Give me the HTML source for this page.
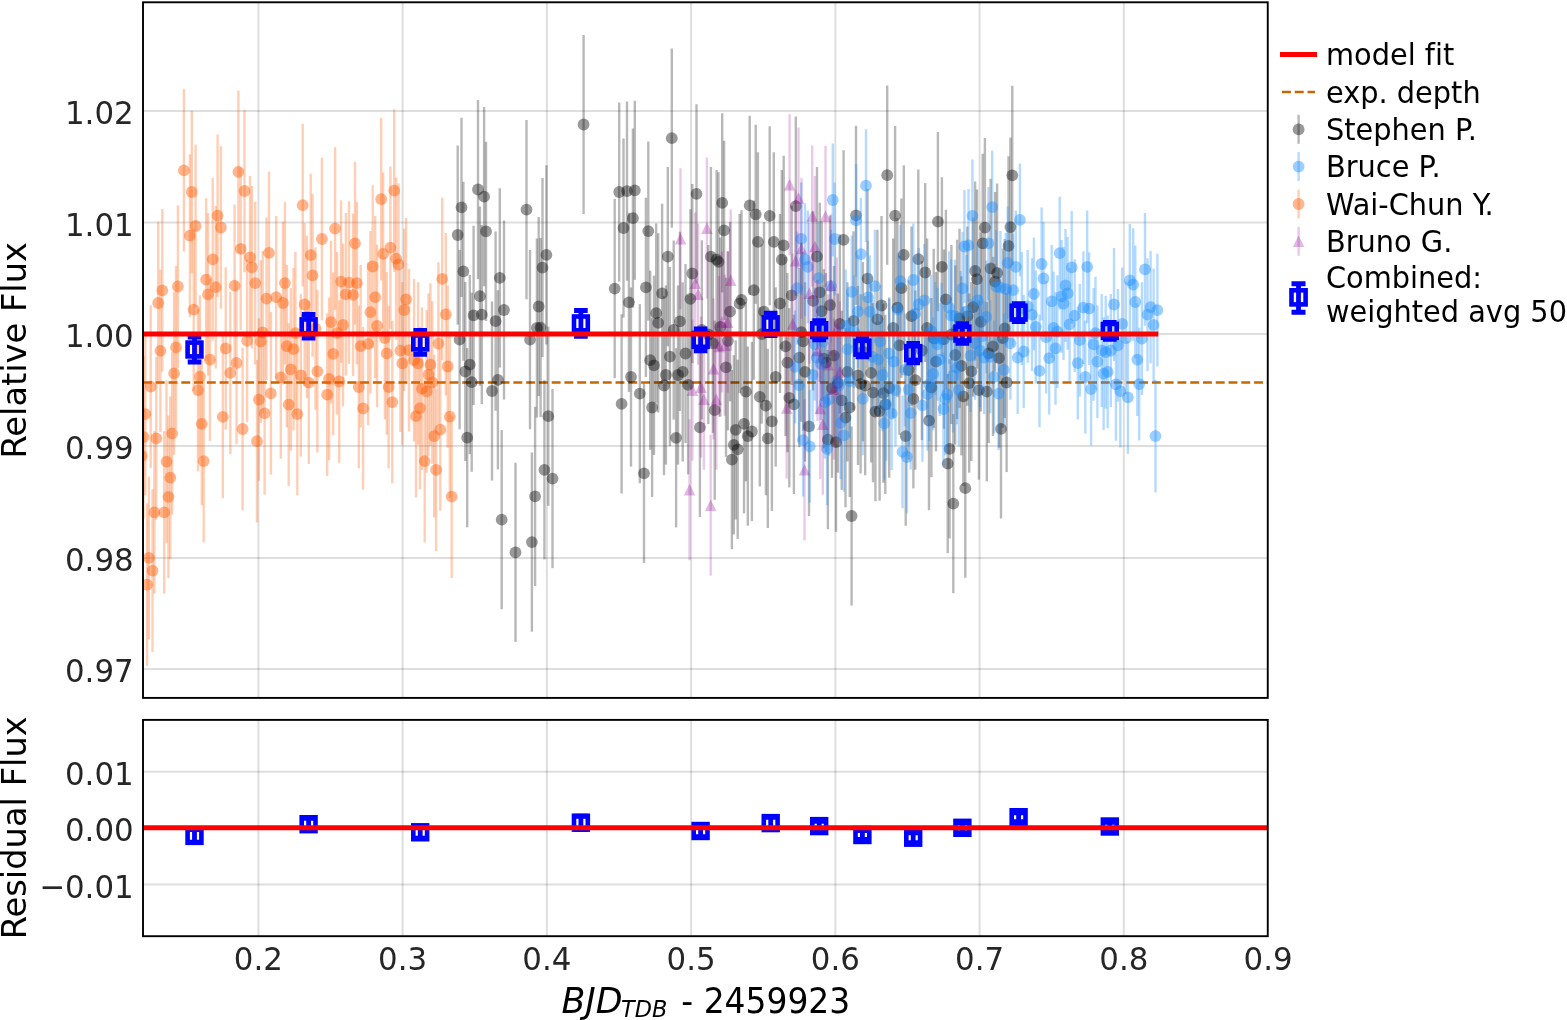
<!DOCTYPE html>
<html lang="en"><head><meta charset="utf-8"><title>Light curve</title>
<style>html,body{margin:0;padding:0;background:#fff;overflow:hidden}svg{display:block}text{font-family:"DejaVu Sans", "Liberation Sans", sans-serif;font-variant-ligatures:none;font-kerning:normal}.tk{font-size:31.5px;fill:#262626}.lb{font-size:33.8px;fill:#000}.yl{font-size:33.8px}.lg{font-size:28.8px;fill:#000}.g{stroke:#000;stroke-width:2;stroke-opacity:.13}.sp{fill:none;stroke:#000;stroke-width:1.9;stroke-linejoin:miter}</style></head><body>
<svg width="1567" height="1020" viewBox="0 0 1567 1020">
<rect x="0" y="0" width="1567" height="1020" fill="#ffffff"/>
<defs>
<clipPath id="ct"><rect x="143.00" y="2.30" width="1124.75" height="695.60"/></clipPath>
<clipPath id="cb"><rect x="143.00" y="719.90" width="1124.75" height="216.30"/></clipPath>
</defs>
<g class="g">
<line x1="258.40" y1="2.30" x2="258.40" y2="697.90"/>
<line x1="258.40" y1="719.90" x2="258.40" y2="936.20"/>
<line x1="402.64" y1="2.30" x2="402.64" y2="697.90"/>
<line x1="402.64" y1="719.90" x2="402.64" y2="936.20"/>
<line x1="546.88" y1="2.30" x2="546.88" y2="697.90"/>
<line x1="546.88" y1="719.90" x2="546.88" y2="936.20"/>
<line x1="691.12" y1="2.30" x2="691.12" y2="697.90"/>
<line x1="691.12" y1="719.90" x2="691.12" y2="936.20"/>
<line x1="835.36" y1="2.30" x2="835.36" y2="697.90"/>
<line x1="835.36" y1="719.90" x2="835.36" y2="936.20"/>
<line x1="979.60" y1="2.30" x2="979.60" y2="697.90"/>
<line x1="979.60" y1="719.90" x2="979.60" y2="936.20"/>
<line x1="1123.84" y1="2.30" x2="1123.84" y2="697.90"/>
<line x1="1123.84" y1="719.90" x2="1123.84" y2="936.20"/>
<line x1="143.00" y1="668.90" x2="1267.75" y2="668.90"/>
<line x1="143.00" y1="557.95" x2="1267.75" y2="557.95"/>
<line x1="143.00" y1="446.05" x2="1267.75" y2="446.05"/>
<line x1="143.00" y1="334.05" x2="1267.75" y2="334.05"/>
<line x1="143.00" y1="222.45" x2="1267.75" y2="222.45"/>
<line x1="143.00" y1="110.95" x2="1267.75" y2="110.95"/>
<line x1="143.00" y1="884.50" x2="1267.75" y2="884.50"/>
<line x1="143.00" y1="828.10" x2="1267.75" y2="828.10"/>
<line x1="143.00" y1="771.70" x2="1267.75" y2="771.70"/>
</g>
<g clip-path="url(#ct)">
<line x1="143.00" y1="382.45" x2="1267.75" y2="382.45" stroke="#c46804" stroke-width="2.65" stroke-dasharray="8.915 3.856"/>
<g stroke="#000000" stroke-width="2.4" stroke-opacity="0.28" fill="none">
<path d="M457.7 145.4V324.6"/>
<path d="M459.6 250.1V429.3"/>
<path d="M461.5 117.8V297.0"/>
<path d="M463.4 181.7V360.9"/>
<path d="M465.3 281.9V461.1"/>
<path d="M467.2 348.1V527.3"/>
<path d="M469.8 275.0V454.2"/>
<path d="M471.7 292.6V471.8"/>
<path d="M473.6 225.8V405.0"/>
<path d="M478.0 99.9V279.1"/>
<path d="M479.9 206.6V385.8"/>
<path d="M481.8 225.0V404.2"/>
<path d="M484.1 107.1V286.3"/>
<path d="M486.0 141.8V321.0"/>
<path d="M492.0 301.4V480.6"/>
<path d="M495.6 231.6V410.8"/>
<path d="M497.9 290.2V469.4"/>
<path d="M499.8 188.3V367.5"/>
<path d="M501.7 430.1V609.3"/>
<path d="M504.0 220.4V399.6"/>
<path d="M515.5 462.7V641.9"/>
<path d="M526.5 120.1V299.3"/>
<path d="M530.0 250.1V429.3"/>
<path d="M531.9 452.5V631.7"/>
<path d="M535.1 406.8V586.0"/>
<path d="M536.9 238.4V417.6"/>
<path d="M538.7 216.9V396.1"/>
<path d="M540.6 238.0V417.2"/>
<path d="M542.5 178.0V357.2"/>
<path d="M544.4 380.2V559.4"/>
<path d="M546.4 165.3V344.5"/>
<path d="M548.3 326.6V505.8"/>
<path d="M552.5 389.0V568.2"/>
<path d="M583.6 34.9V214.1"/>
<path d="M614.7 199.0V378.2"/>
<path d="M619.2 102.4V281.6"/>
<path d="M621.6 314.3V493.5"/>
<path d="M623.5 138.4V317.6"/>
<path d="M627.0 101.5V280.7"/>
<path d="M628.9 212.7V391.9"/>
<path d="M631.0 287.4V466.6"/>
<path d="M632.9 128.6V307.8"/>
<path d="M634.8 100.7V279.9"/>
<path d="M639.8 304.1V483.3"/>
<path d="M644.0 383.7V562.9"/>
<path d="M645.9 197.8V377.0"/>
<path d="M648.3 141.5V320.7"/>
<path d="M650.2 270.6V449.8"/>
<path d="M652.1 317.9V497.1"/>
<path d="M654.0 275.7V454.9"/>
<path d="M656.2 223.6V402.8"/>
<path d="M658.2 233.3V412.5"/>
<path d="M662.1 203.7V382.9"/>
<path d="M664.0 295.9V475.1"/>
<path d="M665.9 285.4V464.6"/>
<path d="M667.8 167.1V346.3"/>
<path d="M669.9 267.0V446.2"/>
<path d="M671.8 48.6V227.8"/>
<path d="M673.7 240.4V419.6"/>
<path d="M676.1 348.2V527.4"/>
<path d="M678.0 285.4V464.6"/>
<path d="M679.9 231.8V411.0"/>
<path d="M682.7 282.3V461.5"/>
<path d="M685.5 263.9V443.1"/>
<path d="M688.1 295.2V474.4"/>
<path d="M690.4 209.3V388.5"/>
<path d="M692.3 183.9V363.1"/>
<path d="M696.5 104.3V283.5"/>
<path d="M699.9 337.8V517.0"/>
<path d="M701.8 240.3V419.5"/>
<path d="M708.3 244.9V424.1"/>
<path d="M710.9 167.1V346.3"/>
<path d="M712.8 253.7V432.9"/>
<path d="M714.7 320.6V499.8"/>
<path d="M716.6 170.1V349.3"/>
<path d="M718.5 172.2V351.4"/>
<path d="M720.3 237.4V416.6"/>
<path d="M722.2 113.2V292.4"/>
<path d="M724.1 140.8V320.0"/>
<path d="M726.0 277.7V456.9"/>
<path d="M727.9 251.2V430.4"/>
<path d="M730.1 222.1V401.3"/>
<path d="M731.9 370.0V549.2"/>
<path d="M733.8 355.2V534.4"/>
<path d="M735.7 340.3V519.5"/>
<path d="M737.7 359.7V538.9"/>
<path d="M739.6 213.9V393.1"/>
<path d="M741.5 210.3V389.5"/>
<path d="M744.0 334.2V513.4"/>
<path d="M745.9 302.1V481.3"/>
<path d="M747.8 346.5V525.7"/>
<path d="M749.7 115.8V295.0"/>
<path d="M751.9 341.9V521.1"/>
<path d="M753.8 200.6V379.8"/>
<path d="M755.7 124.7V303.9"/>
<path d="M757.9 152.3V331.5"/>
<path d="M759.8 307.2V486.4"/>
<path d="M761.7 244.5V423.7"/>
<path d="M764.0 222.1V401.3"/>
<path d="M765.9 316.1V495.3"/>
<path d="M767.8 348.8V528.0"/>
<path d="M769.7 126.2V305.4"/>
<path d="M771.9 331.7V510.9"/>
<path d="M773.8 152.3V331.5"/>
<path d="M775.7 287.4V466.6"/>
<path d="M780.0 213.9V393.1"/>
<path d="M781.8 170.1V349.3"/>
<path d="M783.7 155.8V335.0"/>
<path d="M785.5 256.8V436.0"/>
<path d="M787.4 273.1V452.3"/>
<path d="M789.3 308.2V487.4"/>
<path d="M791.7 205.7V384.9"/>
<path d="M793.9 314.8V494.0"/>
<path d="M795.8 116.5V295.7"/>
<path d="M799.3 268.0V447.2"/>
<path d="M801.2 242.5V421.7"/>
<path d="M803.1 251.7V430.9"/>
<path d="M805.0 282.3V461.5"/>
<path d="M809.0 336.8V516.0"/>
<path d="M813.1 211.3V390.5"/>
<path d="M817.0 167.1V346.3"/>
<path d="M819.8 202.7V381.9"/>
<path d="M821.7 221.5V400.7"/>
<path d="M823.8 269.1V448.3"/>
<path d="M825.9 273.1V452.3"/>
<path d="M827.9 350.0V529.2"/>
<path d="M830.0 215.5V394.7"/>
<path d="M832.0 298.6V477.8"/>
<path d="M834.0 266.0V445.2"/>
<path d="M836.0 352.6V531.8"/>
<path d="M837.9 293.5V472.7"/>
<path d="M839.8 234.3V413.5"/>
<path d="M841.7 310.7V489.9"/>
<path d="M843.6 150.2V329.4"/>
<path d="M845.5 328.1V507.3"/>
<path d="M847.4 282.3V461.5"/>
<path d="M849.7 317.9V497.1"/>
<path d="M851.6 426.4V605.6"/>
<path d="M853.5 231.2V410.4"/>
<path d="M856.0 125.7V304.9"/>
<path d="M858.0 285.9V465.1"/>
<path d="M860.6 294.2V473.4"/>
<path d="M862.9 262.1V441.3"/>
<path d="M865.2 296.1V475.3"/>
<path d="M867.5 189.1V368.3"/>
<path d="M871.1 283.3V462.5"/>
<path d="M873.0 303.1V482.3"/>
<path d="M875.4 322.0V501.2"/>
<path d="M877.4 229.7V408.9"/>
<path d="M879.6 321.5V500.7"/>
<path d="M881.5 215.9V395.1"/>
<path d="M883.4 303.6V482.8"/>
<path d="M885.3 314.9V494.1"/>
<path d="M887.2 85.6V264.8"/>
<path d="M889.2 298.5V477.7"/>
<path d="M893.2 238.4V417.6"/>
<path d="M895.1 126.0V305.2"/>
<path d="M897.4 218.0V397.2"/>
<path d="M899.4 255.7V434.9"/>
<path d="M901.4 198.6V377.8"/>
<path d="M903.8 165.3V344.5"/>
<path d="M905.7 346.5V525.7"/>
<path d="M908.6 280.4V459.6"/>
<path d="M911.5 226.6V405.8"/>
<path d="M913.4 309.2V488.4"/>
<path d="M915.3 290.5V469.7"/>
<path d="M918.3 169.6V348.8"/>
<path d="M921.9 260.9V440.1"/>
<path d="M925.2 182.9V362.1"/>
<path d="M927.1 238.4V417.6"/>
<path d="M929.0 331.0V510.2"/>
<path d="M931.4 298.0V477.2"/>
<path d="M933.7 248.8V428.0"/>
<path d="M936.0 272.1V451.3"/>
<path d="M937.9 132.0V311.2"/>
<path d="M941.9 177.3V356.5"/>
<path d="M944.0 249.6V428.8"/>
<path d="M945.9 209.8V389.0"/>
<path d="M947.7 374.0V553.2"/>
<path d="M949.6 359.2V538.4"/>
<path d="M951.4 244.9V424.1"/>
<path d="M953.3 414.0V593.2"/>
<path d="M955.2 265.4V444.6"/>
<path d="M957.1 239.8V419.0"/>
<path d="M959.5 228.7V407.9"/>
<path d="M961.4 276.2V455.4"/>
<path d="M963.3 306.7V485.9"/>
<path d="M965.3 398.6V577.8"/>
<path d="M967.3 226.6V405.8"/>
<path d="M969.2 293.5V472.7"/>
<path d="M971.3 281.8V461.0"/>
<path d="M973.2 217.5V396.7"/>
<path d="M975.1 181.4V360.6"/>
<path d="M977.0 189.5V368.7"/>
<path d="M978.9 300.5V479.7"/>
<path d="M980.8 232.3V411.5"/>
<path d="M982.7 153.8V333.0"/>
<path d="M984.9 138.0V317.2"/>
<path d="M986.8 302.1V481.3"/>
<path d="M988.7 263.9V443.1"/>
<path d="M990.6 178.8V358.0"/>
<path d="M993.0 256.8V436.0"/>
<path d="M995.1 192.0V371.2"/>
<path d="M997.1 183.4V362.6"/>
<path d="M999.1 268.5V447.7"/>
<path d="M1001.0 339.3V518.5"/>
<path d="M1002.9 248.6V427.8"/>
<path d="M1004.7 238.9V418.1"/>
<path d="M1006.6 292.9V472.1"/>
<path d="M1008.5 156.3V335.5"/>
<path d="M1010.4 137.5V316.7"/>
<path d="M1012.3 85.7V264.9"/>
</g>
<g fill="#000000" fill-opacity="0.40" stroke="none">
<circle cx="457.7" cy="235.0" r="5.9"/>
<circle cx="459.6" cy="339.7" r="5.9"/>
<circle cx="461.5" cy="207.4" r="5.9"/>
<circle cx="463.4" cy="271.3" r="5.9"/>
<circle cx="465.3" cy="371.5" r="5.9"/>
<circle cx="467.2" cy="437.7" r="5.9"/>
<circle cx="469.8" cy="364.6" r="5.9"/>
<circle cx="471.7" cy="382.2" r="5.9"/>
<circle cx="473.6" cy="315.4" r="5.9"/>
<circle cx="478.0" cy="189.5" r="5.9"/>
<circle cx="479.9" cy="296.2" r="5.9"/>
<circle cx="481.8" cy="314.6" r="5.9"/>
<circle cx="484.1" cy="196.7" r="5.9"/>
<circle cx="486.0" cy="231.4" r="5.9"/>
<circle cx="492.0" cy="391.0" r="5.9"/>
<circle cx="495.6" cy="321.2" r="5.9"/>
<circle cx="497.9" cy="379.8" r="5.9"/>
<circle cx="499.8" cy="277.9" r="5.9"/>
<circle cx="501.7" cy="519.7" r="5.9"/>
<circle cx="504.0" cy="310.0" r="5.9"/>
<circle cx="515.5" cy="552.3" r="5.9"/>
<circle cx="526.5" cy="209.7" r="5.9"/>
<circle cx="530.0" cy="339.7" r="5.9"/>
<circle cx="531.9" cy="542.1" r="5.9"/>
<circle cx="535.1" cy="496.4" r="5.9"/>
<circle cx="536.9" cy="328.0" r="5.9"/>
<circle cx="538.7" cy="306.5" r="5.9"/>
<circle cx="540.6" cy="327.6" r="5.9"/>
<circle cx="542.5" cy="267.6" r="5.9"/>
<circle cx="544.4" cy="469.8" r="5.9"/>
<circle cx="546.4" cy="254.9" r="5.9"/>
<circle cx="548.3" cy="416.2" r="5.9"/>
<circle cx="552.5" cy="478.6" r="5.9"/>
<circle cx="583.6" cy="124.5" r="5.9"/>
<circle cx="614.7" cy="288.6" r="5.9"/>
<circle cx="619.2" cy="192.0" r="5.9"/>
<circle cx="621.6" cy="403.9" r="5.9"/>
<circle cx="623.5" cy="228.0" r="5.9"/>
<circle cx="627.0" cy="191.1" r="5.9"/>
<circle cx="628.9" cy="302.3" r="5.9"/>
<circle cx="631.0" cy="377.0" r="5.9"/>
<circle cx="632.9" cy="218.2" r="5.9"/>
<circle cx="634.8" cy="190.3" r="5.9"/>
<circle cx="639.8" cy="393.7" r="5.9"/>
<circle cx="644.0" cy="473.3" r="5.9"/>
<circle cx="645.9" cy="287.4" r="5.9"/>
<circle cx="648.3" cy="231.1" r="5.9"/>
<circle cx="650.2" cy="360.2" r="5.9"/>
<circle cx="652.1" cy="407.5" r="5.9"/>
<circle cx="654.0" cy="365.3" r="5.9"/>
<circle cx="656.2" cy="313.2" r="5.9"/>
<circle cx="658.2" cy="322.9" r="5.9"/>
<circle cx="662.1" cy="293.3" r="5.9"/>
<circle cx="664.0" cy="385.5" r="5.9"/>
<circle cx="665.9" cy="375.0" r="5.9"/>
<circle cx="667.8" cy="256.7" r="5.9"/>
<circle cx="669.9" cy="356.6" r="5.9"/>
<circle cx="671.8" cy="138.2" r="5.9"/>
<circle cx="673.7" cy="330.0" r="5.9"/>
<circle cx="676.1" cy="437.8" r="5.9"/>
<circle cx="678.0" cy="375.0" r="5.9"/>
<circle cx="679.9" cy="321.4" r="5.9"/>
<circle cx="682.7" cy="371.9" r="5.9"/>
<circle cx="685.5" cy="353.5" r="5.9"/>
<circle cx="688.1" cy="384.8" r="5.9"/>
<circle cx="690.4" cy="298.9" r="5.9"/>
<circle cx="692.3" cy="273.5" r="5.9"/>
<circle cx="696.5" cy="193.9" r="5.9"/>
<circle cx="699.9" cy="427.4" r="5.9"/>
<circle cx="701.8" cy="329.9" r="5.9"/>
<circle cx="708.3" cy="334.5" r="5.9"/>
<circle cx="710.9" cy="256.7" r="5.9"/>
<circle cx="712.8" cy="343.3" r="5.9"/>
<circle cx="714.7" cy="410.2" r="5.9"/>
<circle cx="716.6" cy="259.7" r="5.9"/>
<circle cx="718.5" cy="261.8" r="5.9"/>
<circle cx="720.3" cy="327.0" r="5.9"/>
<circle cx="722.2" cy="202.8" r="5.9"/>
<circle cx="724.1" cy="230.4" r="5.9"/>
<circle cx="726.0" cy="367.3" r="5.9"/>
<circle cx="727.9" cy="340.8" r="5.9"/>
<circle cx="730.1" cy="311.7" r="5.9"/>
<circle cx="731.9" cy="459.6" r="5.9"/>
<circle cx="733.8" cy="444.8" r="5.9"/>
<circle cx="735.7" cy="429.9" r="5.9"/>
<circle cx="737.7" cy="449.3" r="5.9"/>
<circle cx="739.6" cy="303.5" r="5.9"/>
<circle cx="741.5" cy="299.9" r="5.9"/>
<circle cx="744.0" cy="423.8" r="5.9"/>
<circle cx="745.9" cy="391.7" r="5.9"/>
<circle cx="747.8" cy="436.1" r="5.9"/>
<circle cx="749.7" cy="205.4" r="5.9"/>
<circle cx="751.9" cy="431.5" r="5.9"/>
<circle cx="753.8" cy="290.2" r="5.9"/>
<circle cx="755.7" cy="214.3" r="5.9"/>
<circle cx="757.9" cy="241.9" r="5.9"/>
<circle cx="759.8" cy="396.8" r="5.9"/>
<circle cx="761.7" cy="334.1" r="5.9"/>
<circle cx="764.0" cy="311.7" r="5.9"/>
<circle cx="765.9" cy="405.7" r="5.9"/>
<circle cx="767.8" cy="438.4" r="5.9"/>
<circle cx="769.7" cy="215.8" r="5.9"/>
<circle cx="771.9" cy="421.3" r="5.9"/>
<circle cx="773.8" cy="241.9" r="5.9"/>
<circle cx="775.7" cy="377.0" r="5.9"/>
<circle cx="780.0" cy="303.5" r="5.9"/>
<circle cx="781.8" cy="259.7" r="5.9"/>
<circle cx="783.7" cy="245.4" r="5.9"/>
<circle cx="785.5" cy="346.4" r="5.9"/>
<circle cx="787.4" cy="362.7" r="5.9"/>
<circle cx="789.3" cy="397.8" r="5.9"/>
<circle cx="791.7" cy="295.3" r="5.9"/>
<circle cx="793.9" cy="404.4" r="5.9"/>
<circle cx="795.8" cy="206.1" r="5.9"/>
<circle cx="799.3" cy="357.6" r="5.9"/>
<circle cx="801.2" cy="332.1" r="5.9"/>
<circle cx="803.1" cy="341.3" r="5.9"/>
<circle cx="805.0" cy="371.9" r="5.9"/>
<circle cx="809.0" cy="426.4" r="5.9"/>
<circle cx="813.1" cy="300.9" r="5.9"/>
<circle cx="817.0" cy="256.7" r="5.9"/>
<circle cx="819.8" cy="292.3" r="5.9"/>
<circle cx="821.7" cy="311.1" r="5.9"/>
<circle cx="823.8" cy="358.7" r="5.9"/>
<circle cx="825.9" cy="362.7" r="5.9"/>
<circle cx="827.9" cy="439.6" r="5.9"/>
<circle cx="830.0" cy="305.1" r="5.9"/>
<circle cx="832.0" cy="388.2" r="5.9"/>
<circle cx="834.0" cy="355.6" r="5.9"/>
<circle cx="836.0" cy="442.2" r="5.9"/>
<circle cx="837.9" cy="383.1" r="5.9"/>
<circle cx="839.8" cy="323.9" r="5.9"/>
<circle cx="841.7" cy="400.3" r="5.9"/>
<circle cx="843.6" cy="239.8" r="5.9"/>
<circle cx="845.5" cy="417.7" r="5.9"/>
<circle cx="847.4" cy="371.9" r="5.9"/>
<circle cx="849.7" cy="407.5" r="5.9"/>
<circle cx="851.6" cy="516.0" r="5.9"/>
<circle cx="853.5" cy="320.8" r="5.9"/>
<circle cx="856.0" cy="215.3" r="5.9"/>
<circle cx="858.0" cy="375.5" r="5.9"/>
<circle cx="860.6" cy="383.8" r="5.9"/>
<circle cx="862.9" cy="351.7" r="5.9"/>
<circle cx="865.2" cy="385.7" r="5.9"/>
<circle cx="867.5" cy="278.7" r="5.9"/>
<circle cx="871.1" cy="372.9" r="5.9"/>
<circle cx="873.0" cy="392.7" r="5.9"/>
<circle cx="875.4" cy="411.6" r="5.9"/>
<circle cx="877.4" cy="319.3" r="5.9"/>
<circle cx="879.6" cy="411.1" r="5.9"/>
<circle cx="881.5" cy="305.5" r="5.9"/>
<circle cx="883.4" cy="393.2" r="5.9"/>
<circle cx="885.3" cy="404.5" r="5.9"/>
<circle cx="887.2" cy="175.2" r="5.9"/>
<circle cx="889.2" cy="388.1" r="5.9"/>
<circle cx="893.2" cy="328.0" r="5.9"/>
<circle cx="895.1" cy="215.6" r="5.9"/>
<circle cx="897.4" cy="307.6" r="5.9"/>
<circle cx="899.4" cy="345.3" r="5.9"/>
<circle cx="901.4" cy="288.2" r="5.9"/>
<circle cx="903.8" cy="254.9" r="5.9"/>
<circle cx="905.7" cy="436.1" r="5.9"/>
<circle cx="908.6" cy="370.0" r="5.9"/>
<circle cx="911.5" cy="316.2" r="5.9"/>
<circle cx="913.4" cy="398.8" r="5.9"/>
<circle cx="915.3" cy="380.1" r="5.9"/>
<circle cx="918.3" cy="259.2" r="5.9"/>
<circle cx="921.9" cy="350.5" r="5.9"/>
<circle cx="925.2" cy="272.5" r="5.9"/>
<circle cx="927.1" cy="328.0" r="5.9"/>
<circle cx="929.0" cy="420.6" r="5.9"/>
<circle cx="931.4" cy="387.6" r="5.9"/>
<circle cx="933.7" cy="338.4" r="5.9"/>
<circle cx="936.0" cy="361.7" r="5.9"/>
<circle cx="937.9" cy="221.6" r="5.9"/>
<circle cx="941.9" cy="266.9" r="5.9"/>
<circle cx="944.0" cy="339.2" r="5.9"/>
<circle cx="945.9" cy="299.4" r="5.9"/>
<circle cx="947.7" cy="463.6" r="5.9"/>
<circle cx="949.6" cy="448.8" r="5.9"/>
<circle cx="951.4" cy="334.5" r="5.9"/>
<circle cx="953.3" cy="503.6" r="5.9"/>
<circle cx="955.2" cy="355.0" r="5.9"/>
<circle cx="957.1" cy="329.4" r="5.9"/>
<circle cx="959.5" cy="318.3" r="5.9"/>
<circle cx="961.4" cy="365.8" r="5.9"/>
<circle cx="963.3" cy="396.3" r="5.9"/>
<circle cx="965.3" cy="488.2" r="5.9"/>
<circle cx="967.3" cy="316.2" r="5.9"/>
<circle cx="969.2" cy="383.1" r="5.9"/>
<circle cx="971.3" cy="371.4" r="5.9"/>
<circle cx="973.2" cy="307.1" r="5.9"/>
<circle cx="975.1" cy="271.0" r="5.9"/>
<circle cx="977.0" cy="279.1" r="5.9"/>
<circle cx="978.9" cy="390.1" r="5.9"/>
<circle cx="980.8" cy="321.9" r="5.9"/>
<circle cx="982.7" cy="243.4" r="5.9"/>
<circle cx="984.9" cy="227.6" r="5.9"/>
<circle cx="986.8" cy="391.7" r="5.9"/>
<circle cx="988.7" cy="353.5" r="5.9"/>
<circle cx="990.6" cy="268.4" r="5.9"/>
<circle cx="993.0" cy="346.4" r="5.9"/>
<circle cx="995.1" cy="281.6" r="5.9"/>
<circle cx="997.1" cy="273.0" r="5.9"/>
<circle cx="999.1" cy="358.1" r="5.9"/>
<circle cx="1001.0" cy="428.9" r="5.9"/>
<circle cx="1002.9" cy="338.2" r="5.9"/>
<circle cx="1004.7" cy="328.5" r="5.9"/>
<circle cx="1006.6" cy="382.5" r="5.9"/>
<circle cx="1008.5" cy="245.9" r="5.9"/>
<circle cx="1010.4" cy="227.1" r="5.9"/>
<circle cx="1012.3" cy="175.3" r="5.9"/>
</g>
<g stroke="#1e90ff" stroke-width="2.4" stroke-opacity="0.33" fill="none">
<path d="M795.1 310.4V423.2"/>
<path d="M797.0 231.8V344.6"/>
<path d="M798.9 328.6V441.4"/>
<path d="M801.2 182.4V295.2"/>
<path d="M803.1 383.8V496.6"/>
<path d="M805.0 203.3V316.1"/>
<path d="M807.8 210.5V323.3"/>
<path d="M809.7 389.9V502.7"/>
<path d="M812.6 318.6V431.4"/>
<path d="M814.7 287.7V400.5"/>
<path d="M816.7 301.2V414.0"/>
<path d="M818.7 221.7V334.5"/>
<path d="M820.8 307.3V420.1"/>
<path d="M822.9 285.1V397.9"/>
<path d="M825.0 345.9V458.7"/>
<path d="M827.1 392.4V505.2"/>
<path d="M829.0 342.9V455.7"/>
<path d="M830.9 229.7V342.5"/>
<path d="M832.8 143.6V256.4"/>
<path d="M834.7 182.6V295.4"/>
<path d="M836.7 324.8V437.6"/>
<path d="M838.7 329.1V441.9"/>
<path d="M840.6 366.4V479.2"/>
<path d="M843.8 378.9V491.7"/>
<path d="M845.7 269.5V382.3"/>
<path d="M847.6 293.0V405.8"/>
<path d="M849.7 324.9V437.7"/>
<path d="M851.8 235.4V348.2"/>
<path d="M854.0 275.2V388.0"/>
<path d="M856.1 164.0V276.8"/>
<path d="M858.0 255.3V368.1"/>
<path d="M860.9 197.7V310.5"/>
<path d="M862.8 342.4V455.2"/>
<path d="M866.0 129.3V242.1"/>
<path d="M867.9 241.0V353.8"/>
<path d="M869.8 255.3V368.1"/>
<path d="M872.4 300.4V413.2"/>
<path d="M874.9 229.7V342.5"/>
<path d="M878.0 303.2V416.0"/>
<path d="M880.2 285.2V398.0"/>
<path d="M882.4 318.6V431.4"/>
<path d="M884.3 366.9V479.7"/>
<path d="M886.2 348.0V460.8"/>
<path d="M889.2 297.1V409.9"/>
<path d="M891.7 357.2V470.0"/>
<path d="M893.6 305.3V418.1"/>
<path d="M895.5 333.7V446.5"/>
<path d="M898.0 253.3V366.1"/>
<path d="M900.4 224.7V337.5"/>
<path d="M902.5 395.5V508.3"/>
<path d="M905.0 313.5V426.3"/>
<path d="M906.9 400.6V513.4"/>
<path d="M908.8 333.2V446.0"/>
<path d="M910.7 356.7V469.5"/>
<path d="M913.3 223.6V336.4"/>
<path d="M915.2 257.3V370.1"/>
<path d="M918.8 248.1V360.9"/>
<path d="M922.4 349.0V461.8"/>
<path d="M924.3 244.0V356.8"/>
<path d="M927.5 337.8V450.6"/>
<path d="M929.3 328.1V440.9"/>
<path d="M931.2 274.7V387.5"/>
<path d="M933.1 317.5V430.3"/>
<path d="M935.3 282.0V394.8"/>
<path d="M937.5 288.0V400.8"/>
<path d="M939.7 303.2V416.0"/>
<path d="M941.6 282.8V395.6"/>
<path d="M943.5 352.6V465.4"/>
<path d="M945.3 342.5V455.3"/>
<path d="M947.2 338.1V450.9"/>
<path d="M949.1 251.2V364.0"/>
<path d="M951.1 259.3V372.1"/>
<path d="M953.0 319.6V432.4"/>
<path d="M954.9 259.7V372.5"/>
<path d="M956.9 311.4V424.2"/>
<path d="M958.8 333.7V446.5"/>
<path d="M960.7 270.8V383.6"/>
<path d="M962.5 231.9V344.7"/>
<path d="M964.4 190.1V302.9"/>
<path d="M966.5 254.9V367.7"/>
<path d="M968.5 189.0V301.8"/>
<path d="M970.5 299.2V412.0"/>
<path d="M972.4 159.4V272.2"/>
<path d="M975.1 287.0V399.8"/>
<path d="M977.7 244.0V356.8"/>
<path d="M979.9 294.3V407.1"/>
<path d="M982.0 279.9V392.7"/>
<path d="M984.1 301.2V414.0"/>
<path d="M986.3 260.5V373.3"/>
<path d="M988.4 187.0V299.8"/>
<path d="M990.3 300.5V413.3"/>
<path d="M992.2 150.7V263.5"/>
<path d="M994.1 320.6V433.4"/>
<path d="M996.3 230.2V343.0"/>
<path d="M998.5 337.3V450.1"/>
<path d="M1000.4 231.1V343.9"/>
<path d="M1003.9 313.5V426.3"/>
<path d="M1005.8 232.8V345.6"/>
<path d="M1007.7 206.4V319.2"/>
<path d="M1010.4 286.9V399.7"/>
<path d="M1013.1 233.8V346.6"/>
<path d="M1015.8 210.5V323.3"/>
<path d="M1017.7 301.2V414.0"/>
<path d="M1019.9 163.5V276.3"/>
<path d="M1021.8 252.1V364.9"/>
<path d="M1023.7 295.1V407.9"/>
<path d="M1027.7 250.0V362.8"/>
<path d="M1032.0 258.3V371.1"/>
<path d="M1033.9 237.4V350.2"/>
<path d="M1035.8 270.6V383.4"/>
<path d="M1039.5 314.5V427.3"/>
<path d="M1041.6 207.6V320.4"/>
<path d="M1043.5 222.1V334.9"/>
<path d="M1046.1 280.8V393.6"/>
<path d="M1049.2 301.7V414.5"/>
<path d="M1051.7 245.0V357.8"/>
<path d="M1053.6 271.6V384.4"/>
<path d="M1055.5 292.0V404.8"/>
<path d="M1057.4 275.3V388.1"/>
<path d="M1059.7 196.7V309.5"/>
<path d="M1061.6 239.9V352.7"/>
<path d="M1063.5 247.1V359.9"/>
<path d="M1065.5 229.1V341.9"/>
<path d="M1067.6 236.9V349.7"/>
<path d="M1069.6 268.0V380.8"/>
<path d="M1071.7 211.0V323.8"/>
<path d="M1074.7 259.3V372.1"/>
<path d="M1077.8 306.8V419.6"/>
<path d="M1079.8 283.8V396.6"/>
<path d="M1083.4 251.2V364.0"/>
<path d="M1085.3 320.6V433.4"/>
<path d="M1087.2 210.5V323.3"/>
<path d="M1089.1 252.2V365.0"/>
<path d="M1091.1 332.7V445.5"/>
<path d="M1093.6 287.9V400.7"/>
<path d="M1095.5 276.7V389.5"/>
<path d="M1097.4 305.3V418.1"/>
<path d="M1101.7 294.1V406.9"/>
<path d="M1103.6 317.3V430.1"/>
<path d="M1105.7 295.7V408.5"/>
<path d="M1107.7 315.5V428.3"/>
<path d="M1110.8 294.1V406.9"/>
<path d="M1114.0 248.1V360.9"/>
<path d="M1115.9 327.9V440.7"/>
<path d="M1117.9 288.9V401.7"/>
<path d="M1120.3 334.7V447.5"/>
<path d="M1122.2 267.5V380.3"/>
<path d="M1126.0 281.8V394.6"/>
<path d="M1127.9 340.9V453.7"/>
<path d="M1129.8 224.0V336.8"/>
<path d="M1133.2 228.2V341.0"/>
<path d="M1135.3 245.6V358.4"/>
<path d="M1137.3 303.2V416.0"/>
<path d="M1139.2 327.7V440.5"/>
<path d="M1141.9 282.3V395.1"/>
<path d="M1145.0 213.0V325.8"/>
<path d="M1147.5 258.3V371.1"/>
<path d="M1150.6 250.7V363.5"/>
<path d="M1153.6 268.5V381.3"/>
<path d="M1155.5 379.7V492.5"/>
<path d="M1157.4 253.7V366.5"/>
</g>
<g fill="#1e90ff" fill-opacity="0.44" stroke="none">
<circle cx="795.1" cy="366.8" r="5.9"/>
<circle cx="797.0" cy="288.2" r="5.9"/>
<circle cx="798.9" cy="385.0" r="5.9"/>
<circle cx="801.2" cy="238.8" r="5.9"/>
<circle cx="803.1" cy="440.2" r="5.9"/>
<circle cx="805.0" cy="259.7" r="5.9"/>
<circle cx="807.8" cy="266.9" r="5.9"/>
<circle cx="809.7" cy="446.3" r="5.9"/>
<circle cx="812.6" cy="375.0" r="5.9"/>
<circle cx="814.7" cy="344.1" r="5.9"/>
<circle cx="816.7" cy="357.6" r="5.9"/>
<circle cx="818.7" cy="278.1" r="5.9"/>
<circle cx="820.8" cy="363.7" r="5.9"/>
<circle cx="822.9" cy="341.5" r="5.9"/>
<circle cx="825.0" cy="402.3" r="5.9"/>
<circle cx="827.1" cy="448.8" r="5.9"/>
<circle cx="829.0" cy="399.3" r="5.9"/>
<circle cx="830.9" cy="286.1" r="5.9"/>
<circle cx="832.8" cy="200.0" r="5.9"/>
<circle cx="834.7" cy="239.0" r="5.9"/>
<circle cx="836.7" cy="381.2" r="5.9"/>
<circle cx="838.7" cy="385.5" r="5.9"/>
<circle cx="840.6" cy="422.8" r="5.9"/>
<circle cx="843.8" cy="435.3" r="5.9"/>
<circle cx="845.7" cy="325.9" r="5.9"/>
<circle cx="847.6" cy="349.4" r="5.9"/>
<circle cx="849.7" cy="381.3" r="5.9"/>
<circle cx="851.8" cy="291.8" r="5.9"/>
<circle cx="854.0" cy="331.6" r="5.9"/>
<circle cx="856.1" cy="220.4" r="5.9"/>
<circle cx="858.0" cy="311.7" r="5.9"/>
<circle cx="860.9" cy="254.1" r="5.9"/>
<circle cx="862.8" cy="398.8" r="5.9"/>
<circle cx="866.0" cy="185.7" r="5.9"/>
<circle cx="867.9" cy="297.4" r="5.9"/>
<circle cx="869.8" cy="311.7" r="5.9"/>
<circle cx="872.4" cy="356.8" r="5.9"/>
<circle cx="874.9" cy="286.1" r="5.9"/>
<circle cx="878.0" cy="359.6" r="5.9"/>
<circle cx="880.2" cy="341.6" r="5.9"/>
<circle cx="882.4" cy="375.0" r="5.9"/>
<circle cx="884.3" cy="423.3" r="5.9"/>
<circle cx="886.2" cy="404.4" r="5.9"/>
<circle cx="889.2" cy="353.5" r="5.9"/>
<circle cx="891.7" cy="413.6" r="5.9"/>
<circle cx="893.6" cy="361.7" r="5.9"/>
<circle cx="895.5" cy="390.1" r="5.9"/>
<circle cx="898.0" cy="309.7" r="5.9"/>
<circle cx="900.4" cy="281.1" r="5.9"/>
<circle cx="902.5" cy="451.9" r="5.9"/>
<circle cx="905.0" cy="369.9" r="5.9"/>
<circle cx="906.9" cy="457.0" r="5.9"/>
<circle cx="908.8" cy="389.6" r="5.9"/>
<circle cx="910.7" cy="413.1" r="5.9"/>
<circle cx="913.3" cy="280.0" r="5.9"/>
<circle cx="915.2" cy="313.7" r="5.9"/>
<circle cx="918.8" cy="304.5" r="5.9"/>
<circle cx="922.4" cy="405.4" r="5.9"/>
<circle cx="924.3" cy="300.4" r="5.9"/>
<circle cx="927.5" cy="394.2" r="5.9"/>
<circle cx="929.3" cy="384.5" r="5.9"/>
<circle cx="931.2" cy="331.1" r="5.9"/>
<circle cx="933.1" cy="373.9" r="5.9"/>
<circle cx="935.3" cy="338.4" r="5.9"/>
<circle cx="937.5" cy="344.4" r="5.9"/>
<circle cx="939.7" cy="359.6" r="5.9"/>
<circle cx="941.6" cy="339.2" r="5.9"/>
<circle cx="943.5" cy="409.0" r="5.9"/>
<circle cx="945.3" cy="398.9" r="5.9"/>
<circle cx="947.2" cy="394.5" r="5.9"/>
<circle cx="949.1" cy="307.6" r="5.9"/>
<circle cx="951.1" cy="315.7" r="5.9"/>
<circle cx="953.0" cy="376.0" r="5.9"/>
<circle cx="954.9" cy="316.1" r="5.9"/>
<circle cx="956.9" cy="367.8" r="5.9"/>
<circle cx="958.8" cy="390.1" r="5.9"/>
<circle cx="960.7" cy="327.2" r="5.9"/>
<circle cx="962.5" cy="288.3" r="5.9"/>
<circle cx="964.4" cy="246.5" r="5.9"/>
<circle cx="966.5" cy="311.3" r="5.9"/>
<circle cx="968.5" cy="245.4" r="5.9"/>
<circle cx="970.5" cy="355.6" r="5.9"/>
<circle cx="972.4" cy="215.8" r="5.9"/>
<circle cx="975.1" cy="343.4" r="5.9"/>
<circle cx="977.7" cy="300.4" r="5.9"/>
<circle cx="979.9" cy="350.7" r="5.9"/>
<circle cx="982.0" cy="336.3" r="5.9"/>
<circle cx="984.1" cy="357.6" r="5.9"/>
<circle cx="986.3" cy="316.9" r="5.9"/>
<circle cx="988.4" cy="243.4" r="5.9"/>
<circle cx="990.3" cy="356.9" r="5.9"/>
<circle cx="992.2" cy="207.1" r="5.9"/>
<circle cx="994.1" cy="377.0" r="5.9"/>
<circle cx="996.3" cy="286.6" r="5.9"/>
<circle cx="998.5" cy="393.7" r="5.9"/>
<circle cx="1000.4" cy="287.5" r="5.9"/>
<circle cx="1003.9" cy="369.9" r="5.9"/>
<circle cx="1005.8" cy="289.2" r="5.9"/>
<circle cx="1007.7" cy="262.8" r="5.9"/>
<circle cx="1010.4" cy="343.3" r="5.9"/>
<circle cx="1013.1" cy="290.2" r="5.9"/>
<circle cx="1015.8" cy="266.9" r="5.9"/>
<circle cx="1017.7" cy="357.6" r="5.9"/>
<circle cx="1019.9" cy="219.9" r="5.9"/>
<circle cx="1021.8" cy="308.5" r="5.9"/>
<circle cx="1023.7" cy="351.5" r="5.9"/>
<circle cx="1027.7" cy="306.4" r="5.9"/>
<circle cx="1032.0" cy="314.7" r="5.9"/>
<circle cx="1033.9" cy="293.8" r="5.9"/>
<circle cx="1035.8" cy="327.0" r="5.9"/>
<circle cx="1039.5" cy="370.9" r="5.9"/>
<circle cx="1041.6" cy="264.0" r="5.9"/>
<circle cx="1043.5" cy="278.5" r="5.9"/>
<circle cx="1046.1" cy="337.2" r="5.9"/>
<circle cx="1049.2" cy="358.1" r="5.9"/>
<circle cx="1051.7" cy="301.4" r="5.9"/>
<circle cx="1053.6" cy="328.0" r="5.9"/>
<circle cx="1055.5" cy="348.4" r="5.9"/>
<circle cx="1057.4" cy="331.7" r="5.9"/>
<circle cx="1059.7" cy="253.1" r="5.9"/>
<circle cx="1061.6" cy="296.3" r="5.9"/>
<circle cx="1063.5" cy="303.5" r="5.9"/>
<circle cx="1065.5" cy="285.5" r="5.9"/>
<circle cx="1067.6" cy="293.3" r="5.9"/>
<circle cx="1069.6" cy="324.4" r="5.9"/>
<circle cx="1071.7" cy="267.4" r="5.9"/>
<circle cx="1074.7" cy="315.7" r="5.9"/>
<circle cx="1077.8" cy="363.2" r="5.9"/>
<circle cx="1079.8" cy="340.2" r="5.9"/>
<circle cx="1083.4" cy="307.6" r="5.9"/>
<circle cx="1085.3" cy="377.0" r="5.9"/>
<circle cx="1087.2" cy="266.9" r="5.9"/>
<circle cx="1089.1" cy="308.6" r="5.9"/>
<circle cx="1091.1" cy="389.1" r="5.9"/>
<circle cx="1093.6" cy="344.3" r="5.9"/>
<circle cx="1095.5" cy="333.1" r="5.9"/>
<circle cx="1097.4" cy="361.7" r="5.9"/>
<circle cx="1101.7" cy="350.5" r="5.9"/>
<circle cx="1103.6" cy="373.7" r="5.9"/>
<circle cx="1105.7" cy="352.1" r="5.9"/>
<circle cx="1107.7" cy="371.9" r="5.9"/>
<circle cx="1110.8" cy="350.5" r="5.9"/>
<circle cx="1114.0" cy="304.5" r="5.9"/>
<circle cx="1115.9" cy="384.3" r="5.9"/>
<circle cx="1117.9" cy="345.3" r="5.9"/>
<circle cx="1120.3" cy="391.1" r="5.9"/>
<circle cx="1122.2" cy="323.9" r="5.9"/>
<circle cx="1126.0" cy="338.2" r="5.9"/>
<circle cx="1127.9" cy="397.3" r="5.9"/>
<circle cx="1129.8" cy="280.4" r="5.9"/>
<circle cx="1133.2" cy="284.6" r="5.9"/>
<circle cx="1135.3" cy="302.0" r="5.9"/>
<circle cx="1137.3" cy="359.6" r="5.9"/>
<circle cx="1139.2" cy="384.1" r="5.9"/>
<circle cx="1141.9" cy="338.7" r="5.9"/>
<circle cx="1145.0" cy="269.4" r="5.9"/>
<circle cx="1147.5" cy="314.7" r="5.9"/>
<circle cx="1150.6" cy="307.1" r="5.9"/>
<circle cx="1153.6" cy="324.9" r="5.9"/>
<circle cx="1155.5" cy="436.1" r="5.9"/>
<circle cx="1157.4" cy="310.1" r="5.9"/>
</g>
<g stroke="#ff5800" stroke-width="2.4" stroke-opacity="0.29" fill="none">
<path d="M141.8 374.6V537.2"/>
<path d="M143.5 355.8V518.4"/>
<path d="M145.3 332.8V495.4"/>
<path d="M147.1 503.4V666.0"/>
<path d="M148.9 476.6V639.2"/>
<path d="M150.7 305.3V467.9"/>
<path d="M152.5 489.3V651.9"/>
<path d="M154.4 431.1V593.7"/>
<path d="M156.3 357.0V519.6"/>
<path d="M158.2 221.7V384.3"/>
<path d="M160.4 269.5V432.1"/>
<path d="M162.3 209.0V371.6"/>
<path d="M164.2 431.1V593.7"/>
<path d="M166.5 380.3V542.9"/>
<path d="M168.4 415.5V578.1"/>
<path d="M170.3 396.4V559.0"/>
<path d="M172.2 352.0V514.6"/>
<path d="M174.1 292.1V454.7"/>
<path d="M176.0 266.1V428.7"/>
<path d="M177.9 205.2V367.8"/>
<path d="M183.9 89.0V251.6"/>
<path d="M189.9 154.3V316.9"/>
<path d="M191.8 110.7V273.3"/>
<path d="M193.7 228.4V391.0"/>
<path d="M195.6 144.7V307.3"/>
<path d="M198.0 308.8V471.4"/>
<path d="M199.9 295.3V457.9"/>
<path d="M201.8 342.5V505.1"/>
<path d="M203.7 379.8V542.4"/>
<path d="M206.1 198.3V360.9"/>
<path d="M208.0 213.1V375.7"/>
<path d="M209.9 278.4V441.0"/>
<path d="M212.7 178.0V340.6"/>
<path d="M215.7 205.9V368.5"/>
<path d="M217.6 134.4V297.0"/>
<path d="M220.9 146.2V308.8"/>
<path d="M222.8 335.6V498.2"/>
<path d="M225.7 267.2V429.8"/>
<path d="M230.3 291.6V454.2"/>
<path d="M234.6 204.4V367.0"/>
<path d="M236.5 281.7V444.3"/>
<path d="M238.4 90.5V253.1"/>
<path d="M240.7 167.6V330.2"/>
<path d="M242.6 347.7V510.3"/>
<path d="M244.5 109.7V272.3"/>
<path d="M247.1 259.5V422.1"/>
<path d="M250.0 176.1V338.7"/>
<path d="M251.9 186.0V348.6"/>
<path d="M255.2 201.8V364.4"/>
<path d="M257.0 359.9V522.5"/>
<path d="M258.9 318.3V480.9"/>
<path d="M260.8 260.3V422.9"/>
<path d="M262.7 251.1V413.7"/>
<path d="M264.6 332.1V494.7"/>
<path d="M266.5 217.4V380.0"/>
<path d="M269.0 171.5V334.1"/>
<path d="M270.9 312.1V474.7"/>
<path d="M276.2 215.9V378.5"/>
<path d="M280.8 296.1V458.7"/>
<path d="M283.0 221.7V384.3"/>
<path d="M284.9 201.8V364.4"/>
<path d="M286.8 264.9V427.5"/>
<path d="M288.7 323.3V485.9"/>
<path d="M290.8 288.1V450.7"/>
<path d="M293.5 267.9V430.5"/>
<path d="M295.4 251.9V414.5"/>
<path d="M297.3 332.8V495.4"/>
<path d="M300.8 294.1V456.7"/>
<path d="M302.7 123.9V286.5"/>
<path d="M304.6 223.2V385.8"/>
<path d="M306.9 235.4V398.0"/>
<path d="M308.8 301.4V464.0"/>
<path d="M310.7 173.8V336.4"/>
<path d="M312.6 194.1V356.7"/>
<path d="M315.5 247.3V409.9"/>
<path d="M317.4 290.0V452.6"/>
<path d="M321.9 157.7V320.3"/>
<path d="M327.2 313.4V476.0"/>
<path d="M329.1 297.6V460.2"/>
<path d="M331.0 240.8V403.4"/>
<path d="M333.2 272.5V435.1"/>
<path d="M335.1 147.3V309.9"/>
<path d="M337.0 251.9V414.5"/>
<path d="M339.2 300.2V462.8"/>
<path d="M341.1 200.3V362.9"/>
<path d="M343.0 243.7V406.3"/>
<path d="M345.9 213.1V375.7"/>
<path d="M349.0 201.3V363.9"/>
<path d="M353.1 213.6V376.2"/>
<path d="M355.0 162.0V324.6"/>
<path d="M356.9 201.8V364.4"/>
<path d="M358.8 305.7V468.3"/>
<path d="M360.7 264.9V427.5"/>
<path d="M363.1 327.0V489.6"/>
<path d="M368.1 262.6V425.2"/>
<path d="M370.4 230.9V393.5"/>
<path d="M372.7 185.2V347.8"/>
<path d="M375.2 215.9V378.5"/>
<path d="M377.1 244.7V407.3"/>
<path d="M381.2 117.9V280.5"/>
<path d="M383.1 172.5V335.1"/>
<path d="M384.9 256.8V419.4"/>
<path d="M386.7 272.1V434.7"/>
<path d="M388.6 305.8V468.4"/>
<path d="M390.4 166.4V329.0"/>
<path d="M392.3 320.8V483.4"/>
<path d="M394.2 109.3V271.9"/>
<path d="M396.1 177.4V340.0"/>
<path d="M398.5 183.2V345.8"/>
<path d="M400.4 269.4V432.0"/>
<path d="M402.3 282.1V444.7"/>
<path d="M404.2 228.7V391.3"/>
<path d="M406.1 218.0V380.6"/>
<path d="M409.0 268.8V431.4"/>
<path d="M414.1 278.9V441.5"/>
<path d="M416.0 334.9V497.5"/>
<path d="M418.1 282.1V444.7"/>
<path d="M420.0 326.8V489.4"/>
<path d="M421.9 307.4V470.0"/>
<path d="M424.7 379.8V542.4"/>
<path d="M426.7 310.1V472.7"/>
<path d="M428.5 293.3V455.9"/>
<path d="M430.4 283.3V445.9"/>
<path d="M432.3 301.2V463.8"/>
<path d="M434.2 354.8V517.4"/>
<path d="M436.1 388.5V551.1"/>
<path d="M438.4 262.2V424.8"/>
<path d="M440.3 348.3V510.9"/>
<path d="M442.2 197.6V360.2"/>
<path d="M445.8 233.0V395.6"/>
<path d="M447.7 285.2V447.8"/>
<path d="M449.8 335.4V498.0"/>
<path d="M451.7 415.4V578.0"/>
</g>
<g fill="#ff5800" fill-opacity="0.44" stroke="none">
<circle cx="141.8" cy="455.9" r="5.9"/>
<circle cx="143.5" cy="437.1" r="5.9"/>
<circle cx="145.3" cy="414.1" r="5.9"/>
<circle cx="147.1" cy="584.7" r="5.9"/>
<circle cx="148.9" cy="557.9" r="5.9"/>
<circle cx="150.7" cy="386.6" r="5.9"/>
<circle cx="152.5" cy="570.6" r="5.9"/>
<circle cx="154.4" cy="512.4" r="5.9"/>
<circle cx="156.3" cy="438.3" r="5.9"/>
<circle cx="158.2" cy="303.0" r="5.9"/>
<circle cx="160.4" cy="350.8" r="5.9"/>
<circle cx="162.3" cy="290.3" r="5.9"/>
<circle cx="164.2" cy="512.4" r="5.9"/>
<circle cx="166.5" cy="461.6" r="5.9"/>
<circle cx="168.4" cy="496.8" r="5.9"/>
<circle cx="170.3" cy="477.7" r="5.9"/>
<circle cx="172.2" cy="433.3" r="5.9"/>
<circle cx="174.1" cy="373.4" r="5.9"/>
<circle cx="176.0" cy="347.4" r="5.9"/>
<circle cx="177.9" cy="286.5" r="5.9"/>
<circle cx="183.9" cy="170.3" r="5.9"/>
<circle cx="189.9" cy="235.6" r="5.9"/>
<circle cx="191.8" cy="192.0" r="5.9"/>
<circle cx="193.7" cy="309.7" r="5.9"/>
<circle cx="195.6" cy="226.0" r="5.9"/>
<circle cx="198.0" cy="390.1" r="5.9"/>
<circle cx="199.9" cy="376.6" r="5.9"/>
<circle cx="201.8" cy="423.8" r="5.9"/>
<circle cx="203.7" cy="461.1" r="5.9"/>
<circle cx="206.1" cy="279.6" r="5.9"/>
<circle cx="208.0" cy="294.4" r="5.9"/>
<circle cx="209.9" cy="359.7" r="5.9"/>
<circle cx="212.7" cy="259.3" r="5.9"/>
<circle cx="215.7" cy="287.2" r="5.9"/>
<circle cx="217.6" cy="215.7" r="5.9"/>
<circle cx="220.9" cy="227.5" r="5.9"/>
<circle cx="222.8" cy="416.9" r="5.9"/>
<circle cx="225.7" cy="348.5" r="5.9"/>
<circle cx="230.3" cy="372.9" r="5.9"/>
<circle cx="234.6" cy="285.7" r="5.9"/>
<circle cx="236.5" cy="363.0" r="5.9"/>
<circle cx="238.4" cy="171.8" r="5.9"/>
<circle cx="240.7" cy="248.9" r="5.9"/>
<circle cx="242.6" cy="429.0" r="5.9"/>
<circle cx="244.5" cy="191.0" r="5.9"/>
<circle cx="247.1" cy="340.8" r="5.9"/>
<circle cx="250.0" cy="257.4" r="5.9"/>
<circle cx="251.9" cy="267.3" r="5.9"/>
<circle cx="255.2" cy="283.1" r="5.9"/>
<circle cx="257.0" cy="441.2" r="5.9"/>
<circle cx="258.9" cy="399.6" r="5.9"/>
<circle cx="260.8" cy="341.6" r="5.9"/>
<circle cx="262.7" cy="332.4" r="5.9"/>
<circle cx="264.6" cy="413.4" r="5.9"/>
<circle cx="266.5" cy="298.7" r="5.9"/>
<circle cx="269.0" cy="252.8" r="5.9"/>
<circle cx="270.9" cy="393.4" r="5.9"/>
<circle cx="276.2" cy="297.2" r="5.9"/>
<circle cx="280.8" cy="377.4" r="5.9"/>
<circle cx="283.0" cy="303.0" r="5.9"/>
<circle cx="284.9" cy="283.1" r="5.9"/>
<circle cx="286.8" cy="346.2" r="5.9"/>
<circle cx="288.7" cy="404.6" r="5.9"/>
<circle cx="290.8" cy="369.4" r="5.9"/>
<circle cx="293.5" cy="349.2" r="5.9"/>
<circle cx="295.4" cy="333.2" r="5.9"/>
<circle cx="297.3" cy="414.1" r="5.9"/>
<circle cx="300.8" cy="375.4" r="5.9"/>
<circle cx="302.7" cy="205.2" r="5.9"/>
<circle cx="304.6" cy="304.5" r="5.9"/>
<circle cx="306.9" cy="316.7" r="5.9"/>
<circle cx="308.8" cy="382.7" r="5.9"/>
<circle cx="310.7" cy="255.1" r="5.9"/>
<circle cx="312.6" cy="275.4" r="5.9"/>
<circle cx="315.5" cy="328.6" r="5.9"/>
<circle cx="317.4" cy="371.3" r="5.9"/>
<circle cx="321.9" cy="239.0" r="5.9"/>
<circle cx="327.2" cy="394.7" r="5.9"/>
<circle cx="329.1" cy="378.9" r="5.9"/>
<circle cx="331.0" cy="322.1" r="5.9"/>
<circle cx="333.2" cy="353.8" r="5.9"/>
<circle cx="335.1" cy="228.6" r="5.9"/>
<circle cx="337.0" cy="333.2" r="5.9"/>
<circle cx="339.2" cy="381.5" r="5.9"/>
<circle cx="341.1" cy="281.6" r="5.9"/>
<circle cx="343.0" cy="325.0" r="5.9"/>
<circle cx="345.9" cy="294.4" r="5.9"/>
<circle cx="349.0" cy="282.6" r="5.9"/>
<circle cx="353.1" cy="294.9" r="5.9"/>
<circle cx="355.0" cy="243.3" r="5.9"/>
<circle cx="356.9" cy="283.1" r="5.9"/>
<circle cx="358.8" cy="387.0" r="5.9"/>
<circle cx="360.7" cy="346.2" r="5.9"/>
<circle cx="363.1" cy="408.3" r="5.9"/>
<circle cx="368.1" cy="343.9" r="5.9"/>
<circle cx="370.4" cy="312.2" r="5.9"/>
<circle cx="372.7" cy="266.5" r="5.9"/>
<circle cx="375.2" cy="297.2" r="5.9"/>
<circle cx="377.1" cy="326.0" r="5.9"/>
<circle cx="381.2" cy="199.2" r="5.9"/>
<circle cx="383.1" cy="253.8" r="5.9"/>
<circle cx="384.9" cy="338.1" r="5.9"/>
<circle cx="386.7" cy="353.4" r="5.9"/>
<circle cx="388.6" cy="387.1" r="5.9"/>
<circle cx="390.4" cy="247.7" r="5.9"/>
<circle cx="392.3" cy="402.1" r="5.9"/>
<circle cx="394.2" cy="190.6" r="5.9"/>
<circle cx="396.1" cy="258.7" r="5.9"/>
<circle cx="398.5" cy="264.5" r="5.9"/>
<circle cx="400.4" cy="350.7" r="5.9"/>
<circle cx="402.3" cy="363.4" r="5.9"/>
<circle cx="404.2" cy="310.0" r="5.9"/>
<circle cx="406.1" cy="299.3" r="5.9"/>
<circle cx="409.0" cy="350.1" r="5.9"/>
<circle cx="414.1" cy="360.2" r="5.9"/>
<circle cx="416.0" cy="416.2" r="5.9"/>
<circle cx="418.1" cy="363.4" r="5.9"/>
<circle cx="420.0" cy="408.1" r="5.9"/>
<circle cx="421.9" cy="388.7" r="5.9"/>
<circle cx="424.7" cy="461.1" r="5.9"/>
<circle cx="426.7" cy="391.4" r="5.9"/>
<circle cx="428.5" cy="374.6" r="5.9"/>
<circle cx="430.4" cy="364.6" r="5.9"/>
<circle cx="432.3" cy="382.5" r="5.9"/>
<circle cx="434.2" cy="436.1" r="5.9"/>
<circle cx="436.1" cy="469.8" r="5.9"/>
<circle cx="438.4" cy="343.5" r="5.9"/>
<circle cx="440.3" cy="429.6" r="5.9"/>
<circle cx="442.2" cy="278.9" r="5.9"/>
<circle cx="445.8" cy="314.3" r="5.9"/>
<circle cx="447.7" cy="366.5" r="5.9"/>
<circle cx="449.8" cy="416.7" r="5.9"/>
<circle cx="451.7" cy="496.7" r="5.9"/>
</g>
<g stroke="#920092" stroke-width="2.4" stroke-opacity="0.21" fill="none">
<path d="M680.5 168.2V309.2"/>
<path d="M689.5 419.2V560.2"/>
<path d="M692.4 319.6V460.6"/>
<path d="M695.2 212.6V353.6"/>
<path d="M698.1 223.8V364.8"/>
<path d="M701.0 316.6V457.6"/>
<path d="M703.9 328.8V469.8"/>
<path d="M706.9 157.6V298.6"/>
<path d="M710.7 434.7V575.7"/>
<path d="M713.5 298.3V439.3"/>
<path d="M716.3 328.8V469.8"/>
<path d="M719.1 275.9V416.9"/>
<path d="M721.9 251.4V392.4"/>
<path d="M724.7 274.8V415.8"/>
<path d="M727.7 251.6V392.6"/>
<path d="M730.7 209.6V350.6"/>
<path d="M786.7 337.5V478.5"/>
<path d="M789.6 114.2V255.2"/>
<path d="M792.6 253.4V394.4"/>
<path d="M795.5 190.2V331.2"/>
<path d="M798.5 127.5V268.5"/>
<path d="M801.5 178.0V319.0"/>
<path d="M804.5 399.3V540.3"/>
<path d="M809.4 222.8V363.8"/>
<path d="M812.2 145.5V286.5"/>
<path d="M814.9 176.0V317.0"/>
<path d="M817.5 280.0V421.0"/>
<path d="M820.2 338.0V479.0"/>
<path d="M822.8 353.8V494.8"/>
<path d="M825.5 145.8V286.8"/>
<path d="M828.2 294.2V435.2"/>
<path d="M831.0 214.6V355.6"/>
<path d="M833.9 318.6V459.6"/>
<path d="M836.8 257.5V398.5"/>
<path d="M839.8 301.4V442.4"/>
</g>
<g fill="#920092" fill-opacity="0.28" stroke="none">
<path d="M680.5 232.9L686.3 244.5L674.7 244.5Z"/>
<path d="M689.5 483.9L695.3 495.5L683.7 495.5Z"/>
<path d="M692.4 384.3L698.2 395.9L686.6 395.9Z"/>
<path d="M695.2 277.3L701.0 288.9L689.4 288.9Z"/>
<path d="M698.1 288.5L703.9 300.1L692.3 300.1Z"/>
<path d="M701.0 381.3L706.8 392.9L695.2 392.9Z"/>
<path d="M703.9 393.5L709.7 405.1L698.1 405.1Z"/>
<path d="M706.9 222.3L712.7 233.9L701.1 233.9Z"/>
<path d="M710.7 499.4L716.5 511.0L704.9 511.0Z"/>
<path d="M713.5 363.0L719.3 374.6L707.7 374.6Z"/>
<path d="M716.3 393.5L722.1 405.1L710.5 405.1Z"/>
<path d="M719.1 340.6L724.9 352.2L713.3 352.2Z"/>
<path d="M721.9 316.1L727.7 327.7L716.1 327.7Z"/>
<path d="M724.7 339.5L730.5 351.1L718.9 351.1Z"/>
<path d="M727.7 316.3L733.5 327.9L721.9 327.9Z"/>
<path d="M730.7 274.3L736.5 285.9L724.9 285.9Z"/>
<path d="M786.7 402.2L792.5 413.8L780.9 413.8Z"/>
<path d="M789.6 178.9L795.4 190.5L783.8 190.5Z"/>
<path d="M792.6 318.1L798.4 329.7L786.8 329.7Z"/>
<path d="M795.5 254.9L801.3 266.5L789.7 266.5Z"/>
<path d="M798.5 192.2L804.3 203.8L792.7 203.8Z"/>
<path d="M801.5 242.7L807.3 254.3L795.7 254.3Z"/>
<path d="M804.5 464.0L810.3 475.6L798.7 475.6Z"/>
<path d="M809.4 287.5L815.2 299.1L803.6 299.1Z"/>
<path d="M812.2 210.2L818.0 221.8L806.4 221.8Z"/>
<path d="M814.9 240.7L820.7 252.3L809.1 252.3Z"/>
<path d="M817.5 344.7L823.3 356.3L811.7 356.3Z"/>
<path d="M820.2 402.7L826.0 414.3L814.4 414.3Z"/>
<path d="M822.8 418.5L828.6 430.1L817.0 430.1Z"/>
<path d="M825.5 210.5L831.3 222.1L819.7 222.1Z"/>
<path d="M828.2 358.9L834.0 370.5L822.4 370.5Z"/>
<path d="M831.0 279.3L836.8 290.9L825.2 290.9Z"/>
<path d="M833.9 383.3L839.7 394.9L828.1 394.9Z"/>
<path d="M836.8 322.2L842.6 333.8L831.0 333.8Z"/>
<path d="M839.8 366.1L845.6 377.7L834.0 377.7Z"/>
</g>
</g>
<g clip-path="url(#ct)">
<path d="M194.5 337.0V362.0" stroke="#0000ff" stroke-width="4.8" fill="none"/><path d="M187.7 337.0H201.3M187.7 362.0H201.3" stroke="#0000ff" stroke-width="4.9" fill="none"/><rect x="187.60" y="342.60" width="13.8" height="13.8" fill="none" stroke="#0000ff" stroke-width="4.6"/>
<path d="M308.6 314.5V338.1" stroke="#0000ff" stroke-width="4.8" fill="none"/><path d="M301.8 314.5H315.4M301.8 338.1H315.4" stroke="#0000ff" stroke-width="4.9" fill="none"/><rect x="301.70" y="319.40" width="13.8" height="13.8" fill="none" stroke="#0000ff" stroke-width="4.6"/>
<path d="M420.2 330.5V354.3" stroke="#0000ff" stroke-width="4.8" fill="none"/><path d="M413.4 330.5H427.0M413.4 354.3H427.0" stroke="#0000ff" stroke-width="4.9" fill="none"/><rect x="413.30" y="335.50" width="13.8" height="13.8" fill="none" stroke="#0000ff" stroke-width="4.6"/>
<path d="M580.9 310.5V336.3" stroke="#0000ff" stroke-width="4.8" fill="none"/><path d="M574.1 310.5H587.7M574.1 336.3H587.7" stroke="#0000ff" stroke-width="4.9" fill="none"/><rect x="574.00" y="316.50" width="13.8" height="13.8" fill="none" stroke="#0000ff" stroke-width="4.6"/>
<path d="M700.6 328.9V350.9" stroke="#0000ff" stroke-width="4.8" fill="none"/><path d="M693.8 328.9H707.4M693.8 350.9H707.4" stroke="#0000ff" stroke-width="4.9" fill="none"/><rect x="693.70" y="333.00" width="13.8" height="13.8" fill="none" stroke="#0000ff" stroke-width="4.6"/>
<path d="M770.7 313.1V335.5" stroke="#0000ff" stroke-width="4.8" fill="none"/><path d="M763.9 313.1H777.5M763.9 335.5H777.5" stroke="#0000ff" stroke-width="4.9" fill="none"/><rect x="763.80" y="317.40" width="13.8" height="13.8" fill="none" stroke="#0000ff" stroke-width="4.6"/>
<path d="M819.2 320.7V339.7" stroke="#0000ff" stroke-width="4.8" fill="none"/><path d="M812.4 320.7H826.0M812.4 339.7H826.0" stroke="#0000ff" stroke-width="4.9" fill="none"/><rect x="812.30" y="323.30" width="13.8" height="13.8" fill="none" stroke="#0000ff" stroke-width="4.6"/>
<path d="M862.4 338.7V356.7" stroke="#0000ff" stroke-width="4.8" fill="none"/><path d="M855.6 338.7H869.2M855.6 356.7H869.2" stroke="#0000ff" stroke-width="4.9" fill="none"/><rect x="855.50" y="340.80" width="13.8" height="13.8" fill="none" stroke="#0000ff" stroke-width="4.6"/>
<path d="M913.2 343.5V362.7" stroke="#0000ff" stroke-width="4.8" fill="none"/><path d="M906.4 343.5H920.0M906.4 362.7H920.0" stroke="#0000ff" stroke-width="4.9" fill="none"/><rect x="906.30" y="346.20" width="13.8" height="13.8" fill="none" stroke="#0000ff" stroke-width="4.6"/>
<path d="M962.4 323.8V343.4" stroke="#0000ff" stroke-width="4.8" fill="none"/><path d="M955.6 323.8H969.2M955.6 343.4H969.2" stroke="#0000ff" stroke-width="4.9" fill="none"/><rect x="955.50" y="326.70" width="13.8" height="13.8" fill="none" stroke="#0000ff" stroke-width="4.6"/>
<path d="M1018.6 303.6V321.6" stroke="#0000ff" stroke-width="4.8" fill="none"/><path d="M1011.8 303.6H1025.4M1011.8 321.6H1025.4" stroke="#0000ff" stroke-width="4.9" fill="none"/><rect x="1011.70" y="305.70" width="13.8" height="13.8" fill="none" stroke="#0000ff" stroke-width="4.6"/>
<path d="M1109.8 322.5V339.3" stroke="#0000ff" stroke-width="4.8" fill="none"/><path d="M1103.0 322.5H1116.6M1103.0 339.3H1116.6" stroke="#0000ff" stroke-width="4.9" fill="none"/><rect x="1102.90" y="324.00" width="13.8" height="13.8" fill="none" stroke="#0000ff" stroke-width="4.6"/>
<line x1="143.00" y1="333.95" x2="1158.3" y2="333.95" stroke="#ff0000" stroke-width="5.1"/>
</g>
<g clip-path="url(#cb)">
<path d="M194.5 829.6V842.2" stroke="#0000ff" stroke-width="4.8" fill="none"/><path d="M187.7 829.6H201.3M187.7 842.2H201.3" stroke="#0000ff" stroke-width="4.9" fill="none"/><rect x="187.60" y="829.00" width="13.8" height="13.8" fill="none" stroke="#0000ff" stroke-width="4.6"/>
<path d="M308.6 818.2V830.2" stroke="#0000ff" stroke-width="4.8" fill="none"/><path d="M301.8 818.2H315.4M301.8 830.2H315.4" stroke="#0000ff" stroke-width="4.9" fill="none"/><rect x="301.70" y="817.30" width="13.8" height="13.8" fill="none" stroke="#0000ff" stroke-width="4.6"/>
<path d="M420.2 826.3V838.3" stroke="#0000ff" stroke-width="4.8" fill="none"/><path d="M413.4 826.3H427.0M413.4 838.3H427.0" stroke="#0000ff" stroke-width="4.9" fill="none"/><rect x="413.30" y="825.40" width="13.8" height="13.8" fill="none" stroke="#0000ff" stroke-width="4.6"/>
<path d="M580.9 816.2V829.2" stroke="#0000ff" stroke-width="4.8" fill="none"/><path d="M574.1 816.2H587.7M574.1 829.2H587.7" stroke="#0000ff" stroke-width="4.9" fill="none"/><rect x="574.00" y="815.80" width="13.8" height="13.8" fill="none" stroke="#0000ff" stroke-width="4.6"/>
<path d="M700.6 825.4V836.6" stroke="#0000ff" stroke-width="4.8" fill="none"/><path d="M693.8 825.4H707.4M693.8 836.6H707.4" stroke="#0000ff" stroke-width="4.9" fill="none"/><rect x="693.70" y="824.10" width="13.8" height="13.8" fill="none" stroke="#0000ff" stroke-width="4.6"/>
<path d="M770.7 817.4V828.8" stroke="#0000ff" stroke-width="4.8" fill="none"/><path d="M763.9 817.4H777.5M763.9 828.8H777.5" stroke="#0000ff" stroke-width="4.9" fill="none"/><rect x="763.80" y="816.20" width="13.8" height="13.8" fill="none" stroke="#0000ff" stroke-width="4.6"/>
<path d="M819.2 821.3V830.9" stroke="#0000ff" stroke-width="4.8" fill="none"/><path d="M812.4 821.3H826.0M812.4 830.9H826.0" stroke="#0000ff" stroke-width="4.9" fill="none"/><rect x="812.30" y="819.20" width="13.8" height="13.8" fill="none" stroke="#0000ff" stroke-width="4.6"/>
<path d="M862.4 830.5V839.5" stroke="#0000ff" stroke-width="4.8" fill="none"/><path d="M855.6 830.5H869.2M855.6 839.5H869.2" stroke="#0000ff" stroke-width="4.9" fill="none"/><rect x="855.50" y="828.10" width="13.8" height="13.8" fill="none" stroke="#0000ff" stroke-width="4.6"/>
<path d="M913.2 832.8V842.6" stroke="#0000ff" stroke-width="4.8" fill="none"/><path d="M906.4 832.8H920.0M906.4 842.6H920.0" stroke="#0000ff" stroke-width="4.9" fill="none"/><rect x="906.30" y="830.80" width="13.8" height="13.8" fill="none" stroke="#0000ff" stroke-width="4.6"/>
<path d="M962.4 822.8V832.8" stroke="#0000ff" stroke-width="4.8" fill="none"/><path d="M955.6 822.8H969.2M955.6 832.8H969.2" stroke="#0000ff" stroke-width="4.9" fill="none"/><rect x="955.50" y="820.90" width="13.8" height="13.8" fill="none" stroke="#0000ff" stroke-width="4.6"/>
<path d="M1018.6 812.7V821.7" stroke="#0000ff" stroke-width="4.8" fill="none"/><path d="M1011.8 812.7H1025.4M1011.8 821.7H1025.4" stroke="#0000ff" stroke-width="4.9" fill="none"/><rect x="1011.70" y="810.30" width="13.8" height="13.8" fill="none" stroke="#0000ff" stroke-width="4.6"/>
<path d="M1109.8 822.3V830.7" stroke="#0000ff" stroke-width="4.8" fill="none"/><path d="M1103.0 822.3H1116.6M1103.0 830.7H1116.6" stroke="#0000ff" stroke-width="4.9" fill="none"/><rect x="1102.90" y="819.60" width="13.8" height="13.8" fill="none" stroke="#0000ff" stroke-width="4.6"/>
<line x1="143.00" y1="827.75" x2="1267.75" y2="827.75" stroke="#ff0000" stroke-width="5.1"/>
</g>
<rect class="sp" x="143.00" y="2.30" width="1124.75" height="695.60"/>
<rect class="sp" x="143.00" y="719.90" width="1124.75" height="216.30"/>
<text class="tk" text-anchor="end" transform="translate(133.70 682.20) scale(0.9800 1.0330)">0.97</text>
<text class="tk" text-anchor="end" transform="translate(133.70 571.25) scale(0.9800 1.0330)">0.98</text>
<text class="tk" text-anchor="end" transform="translate(133.70 459.35) scale(0.9800 1.0330)">0.99</text>
<text class="tk" text-anchor="end" transform="translate(133.70 347.35) scale(0.9800 1.0330)">1.00</text>
<text class="tk" text-anchor="end" transform="translate(133.70 235.75) scale(0.9800 1.0330)">1.01</text>
<text class="tk" text-anchor="end" transform="translate(133.70 124.25) scale(0.9800 1.0330)">1.02</text>
<text class="tk" text-anchor="end" transform="translate(133.70 897.80) scale(0.9800 1.0330)">−0.01</text>
<text class="tk" text-anchor="end" transform="translate(133.70 841.40) scale(0.9800 1.0330)">0.00</text>
<text class="tk" text-anchor="end" transform="translate(133.70 785.00) scale(0.9800 1.0330)">0.01</text>
<text class="tk" text-anchor="middle" transform="translate(258.40 969.60) scale(0.9800 1.0330)">0.2</text>
<text class="tk" text-anchor="middle" transform="translate(402.64 969.60) scale(0.9800 1.0330)">0.3</text>
<text class="tk" text-anchor="middle" transform="translate(546.88 969.60) scale(0.9800 1.0330)">0.4</text>
<text class="tk" text-anchor="middle" transform="translate(691.12 969.60) scale(0.9800 1.0330)">0.5</text>
<text class="tk" text-anchor="middle" transform="translate(835.36 969.60) scale(0.9800 1.0330)">0.6</text>
<text class="tk" text-anchor="middle" transform="translate(979.60 969.60) scale(0.9800 1.0330)">0.7</text>
<text class="tk" text-anchor="middle" transform="translate(1123.84 969.60) scale(0.9800 1.0330)">0.8</text>
<text class="tk" text-anchor="middle" transform="translate(1268.08 969.60) scale(0.9800 1.0330)">0.9</text>
<text class="lb yl" text-anchor="middle" transform="translate(26.40 350.30) rotate(-90) scale(0.9970 0.9850)">Relative Flux</text>
<text class="lb yl" text-anchor="middle" transform="translate(26.40 827.80) rotate(-90) scale(0.9970 0.9850)">Residual Flux</text>
<text class="lb" text-anchor="start" transform="translate(561.60 1012.70) scale(1.0300 1.0700)" style="font-style:italic">BJD</text>
<text class="lb" text-anchor="start" transform="translate(621.00 1016.70) scale(0.9740 1.0000)" style="font-style:italic;font-size:23px">TDB</text>
<text class="lb" text-anchor="start" transform="translate(681.30 1012.70) scale(0.9740 1.0700)">- 2459923</text>
<g>
<line x1="1280.0" y1="54.5" x2="1317.0" y2="54.5" stroke="#ff0000" stroke-width="5.1"/>
<line x1="1282.0" y1="92.0" x2="1315.0" y2="92.0" stroke="#c46804" stroke-width="2.6" stroke-dasharray="8.915 3.856"/>
<path d="M1298.6 114.8V143.8" stroke="#000000" stroke-width="2.4" stroke-opacity="0.28"/>
<circle cx="1298.6" cy="129.3" r="5.9" fill="#000000" fill-opacity="0.40"/>
<path d="M1298.6 152.1V181.1" stroke="#1e90ff" stroke-width="2.4" stroke-opacity="0.33"/>
<circle cx="1298.6" cy="166.6" r="5.9" fill="#1e90ff" fill-opacity="0.44"/>
<path d="M1298.6 189.5V218.5" stroke="#ff5800" stroke-width="2.4" stroke-opacity="0.29"/>
<circle cx="1298.6" cy="204.0" r="5.9" fill="#ff5800" fill-opacity="0.44"/>
<path d="M1298.6 226.8V255.8" stroke="#920092" stroke-width="2.4" stroke-opacity="0.21"/>
<path d="M1298.6 235.5L1304.4 247.1L1292.8 247.1Z" fill="#920092" fill-opacity="0.28"/>
<path d="M1298.5 283.7V312.3" stroke="#0000ff" stroke-width="4.8" fill="none"/>
<path d="M1291.5 283.7H1305.5M1291.5 312.3H1305.5" stroke="#0000ff" stroke-width="4.9" fill="none"/>
<rect x="1291.5" y="290.3" width="14.1" height="14.1" fill="none" stroke="#0000ff" stroke-width="4.6"/>
</g>
<text class="lg" text-anchor="start" transform="translate(1326.00 65.10) scale(1.0000 1.0400)">model fit</text>
<text class="lg" text-anchor="start" transform="translate(1326.00 102.60) scale(1.0000 1.0400)">exp. depth</text>
<text class="lg" text-anchor="start" transform="translate(1326.00 139.90) scale(1.0000 1.0400)">Stephen P.</text>
<text class="lg" text-anchor="start" transform="translate(1326.00 177.20) scale(1.0000 1.0400)">Bruce P.</text>
<text class="lg" text-anchor="start" transform="translate(1326.00 214.60) scale(1.0000 1.0400)">Wai-Chun Y.</text>
<text class="lg" text-anchor="start" transform="translate(1326.00 251.90) scale(1.0000 1.0400)">Bruno G.</text>
<text class="lg" text-anchor="start" transform="translate(1326.00 288.20) scale(1.0000 1.0400)">Combined:</text>
<text class="lg" text-anchor="start" transform="translate(1326.00 321.60) scale(1.0000 1.0400)">weighted avg 50</text>
</svg></body></html>
